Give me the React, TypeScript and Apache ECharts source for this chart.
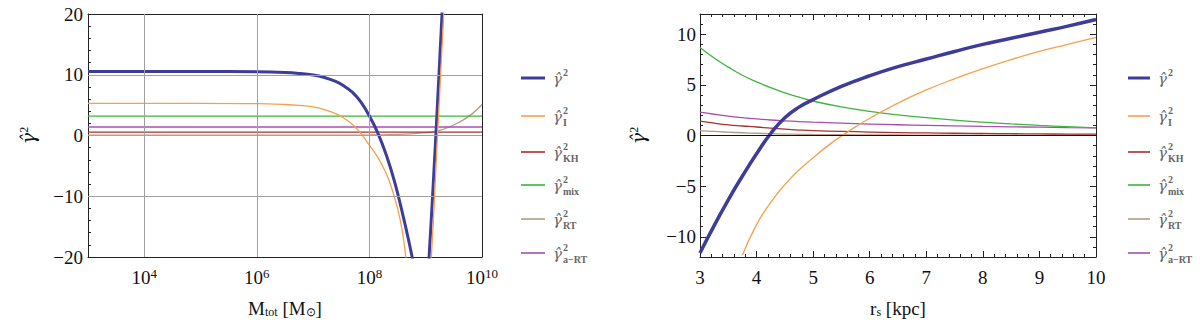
import { useEffect, useRef } from 'react';
import * as echarts from 'echarts';

// ---------- shared ----------
const legendSubs = ['', 'I', 'KH', 'mix', 'RT', 'a−RT'];
const curveColors = ['#3d3c9b', '#f7a04a', '#a8302e', '#3db53d', '#b59a86', '#a64fae'];
const curveWidths = [3, 1.3, 1.3, 1.3, 1.3, 1.3];

// ---------- left panel: x = log10(M_tot / M_sun) ----------
const lBlueLogM = [3, 5, 6, 6.5, 6.75, 7, 7.2, 7.4, 7.55, 7.7, 7.85, 8.0, 8.15, 8.3, 8.45, 8.6, 8.7, 8.78, 8.9, 9.0, 9.06, 9.18, 9.29, 9.35];
const lBlueVal = [10.55, 10.55, 10.5, 10.38, 10.22, 9.95, 9.55, 8.9, 8.15, 7.1, 5.5, 3.2, 0.4, -3.2, -7.7, -13.3, -17.4, -21, -27, -28, -20, 0, 20, 30];
const lOrangeLogM = [3, 5, 6, 6.5, 6.75, 7, 7.2, 7.4, 7.55, 7.7, 7.85, 8.0, 8.15, 8.3, 8.4, 8.5, 8.58, 8.64, 8.7, 8.8, 9.0, 9.1, 9.21, 9.32, 9.38];
const lOrangeVal = [5.3, 5.3, 5.25, 5.1, 4.95, 4.7, 4.25, 3.6, 2.85, 1.8, 0.3, -1.6, -3.6, -6.3, -8.8, -12, -15.5, -19.5, -24, -30, -33, -20, 0, 20, 31];
const lRedLogM = [3, 10];
const lRedVal = [0.55, 0.55];
const lGreenLogM = [3, 10];
const lGreenVal = [3.2, 3.2];
const lBrownLogM = [3, 7, 8, 8.5, 8.85, 9.25, 9.6, 9.83, 10];
const lBrownVal = [0.05, 0.05, 0.1, 0.2, 0.35, 0.85, 2.2, 3.6, 5.1];
const lPurpleLogM = [3, 10];
const lPurpleVal = [1.4, 1.4];
const leftGridX = [1e4, 1e6, 1e8];
const leftGridY = [10, 0, -10];

// ---------- right panel: x = r_s [kpc] ----------
const rs = [3, 3.25, 3.5, 3.75, 4, 4.25, 4.5, 4.75, 5, 5.5, 6, 6.5, 7, 7.5, 8, 8.5, 9, 9.5, 10];
const rBlue = [-11.6, -8.9, -6.35, -4.0, -1.8, 0.2, 1.75, 2.8, 3.55, 4.85, 5.9, 6.8, 7.55, 8.3, 9.0, 9.6, 10.2, 10.8, 11.45];
const rsOrange = [3.75, 4, 4.25, 4.5, 4.75, 5, 5.25, 5.5, 5.75, 6, 6.5, 7, 7.5, 8, 8.5, 9, 9.5, 10];
const rOrange = [-11.8, -8.8, -6.6, -4.85, -3.4, -2.2, -1.05, -0.05, 0.85, 1.7, 3.2, 4.5, 5.6, 6.6, 7.5, 8.3, 9.0, 9.7];
const rRed = [1.43, 1.22, 1.05, 0.94, 0.84, 0.72, 0.62, 0.54, 0.48, 0.41, 0.34, 0.29, 0.25, 0.22, 0.2, 0.18, 0.16, 0.14, 0.13];
const rGreen = [8.7, 7.65, 6.75, 5.95, 5.3, 4.72, 4.22, 3.78, 3.4, 2.82, 2.38, 2.04, 1.76, 1.52, 1.32, 1.15, 1.0, 0.87, 0.76];
const rBrown = [0.49, 0.4, 0.33, 0.27, 0.22, 0.18, 0.14, 0.12, 0.1, 0.08, 0.06, 0.05, 0.04, 0.035, 0.03, 0.025, 0.02, 0.02, 0.02];
const rPurple = [2.3, 2.1, 1.92, 1.77, 1.64, 1.53, 1.45, 1.38, 1.32, 1.22, 1.13, 1.06, 1.0, 0.95, 0.9, 0.86, 0.82, 0.78, 0.75];

const FONT = "'Liberation Serif', serif";
const GFONT = "'DejaVu Serif', serif";
const AXIS_COLOR = '#222';

const zip = (xs: number[], ys: number[]) => xs.map((x, i) => [x, ys[i]]);
const zipLog = (es: number[], ys: number[]) => es.map((e, i) => [Math.pow(10, e), ys[i]]);
const minusFmt = (v: number) => (v < 0 ? '−' + Math.abs(v) : String(v));

export default function App() {
  const ref = useRef<HTMLDivElement>(null);

  useEffect(() => {
    if (!ref.current) return;
    const chart = echarts.init(ref.current, null, { renderer: 'svg' });

    const leftSets = [
      zipLog(lBlueLogM, lBlueVal),
      zipLog(lOrangeLogM, lOrangeVal),
      zipLog(lRedLogM, lRedVal),
      zipLog(lGreenLogM, lGreenVal),
      zipLog(lBrownLogM, lBrownVal),
      zipLog(lPurpleLogM, lPurpleVal),
    ];
    const rightSets = [
      zip(rs, rBlue),
      zip(rsOrange, rOrange),
      zip(rs, rRed),
      zip(rs, rGreen),
      zip(rs, rBrown),
      zip(rs, rPurple),
    ];
    const leftOrder = [4, 2, 5, 3, 0, 1];
    const rightOrder = [4, 2, 5, 3, 1, 0];

    const series: any[] = [];
    series.push({
      type: 'line', xAxisIndex: 0, yAxisIndex: 0, data: [], z: 1, silent: true,
      markLine: {
        silent: true, symbol: 'none', label: { show: false },
        lineStyle: { color: '#a0a0a0', width: 1, type: 'solid' },
        data: [...leftGridX.map((v) => ({ xAxis: v })), ...leftGridY.map((v) => ({ yAxis: v }))],
      },
    });
    series.push({
      type: 'line', xAxisIndex: 2, yAxisIndex: 2, data: [], z: 1, silent: true,
      markLine: {
        silent: true, symbol: 'none', label: { show: false },
        lineStyle: { color: '#111', width: 1, type: 'solid' },
        data: [{ yAxis: 0 }],
      },
    });
    leftOrder.forEach((i) => {
      series.push({
        type: 'line', xAxisIndex: 0, yAxisIndex: 0, data: leftSets[i], showSymbol: false, symbol: 'none',
        smooth: 0.4, clip: true, z: 3,
        lineStyle: { color: curveColors[i], width: curveWidths[i] },
      });
    });
    rightOrder.forEach((i) => {
      series.push({
        type: 'line', xAxisIndex: 2, yAxisIndex: 2, data: rightSets[i], showSymbol: false, symbol: 'none',
        smooth: 0.5, clip: true, z: 3,
        lineStyle: { color: curveColors[i], width: i === 0 ? 3.5 : curveWidths[i] },
      });
    });

    const axisLine = { show: true, onZero: false, lineStyle: { color: AXIS_COLOR, width: 1 } };
    const labelBase = { fontFamily: FONT, fontSize: 19, color: '#111' };
    const supRich = { sup: { fontFamily: FONT, fontSize: 13, color: '#111', verticalAlign: 'top', padding: [0, 0, 8, 0] } };
    const subRich = { sub: { fontFamily: FONT, fontSize: 12, color: '#111', verticalAlign: 'bottom', padding: [6, 0, 0, 0] } };
    const nameRich = {
      g: { fontFamily: GFONT, fontSize: 19, fontStyle: 'italic', color: '#111' },
      sup: { fontFamily: FONT, fontSize: 12, color: '#111', verticalAlign: 'top', padding: [0, 0, 8, 0] },
    };

    const hidden = { axisLabel: { show: false }, axisTick: { show: false }, splitLine: { show: false }, minorTick: { show: false } };

    const legendY = [78, 116, 152, 185, 219, 253];
    const legendX = [521, 1128];
    const graphic: any[] = [];
    legendX.forEach((lx, side) => {
      const len = side === 0 ? 24 : 22;
      legendSubs.forEach((sub, i) => {
        const y = legendY[i];
        graphic.push({
          type: 'line', shape: { x1: lx, y1: y, x2: lx + len, y2: y },
          style: { stroke: curveColors[i], lineWidth: i === 0 ? 3 : 1.6 },
        });
        const tx = lx + len + 8;
        graphic.push({
          type: 'text', x: tx, y: y + 1,
          style: { text: 'γ̂', fontFamily: GFONT, fontStyle: 'italic', fontSize: 15, fill: '#666', align: 'left', verticalAlign: 'middle' },
        });
        graphic.push({
          type: 'text', x: tx + 10, y: y - 6,
          style: { text: '2', fontFamily: FONT, fontWeight: 'bold', fontSize: 10, fill: '#666', align: 'left', verticalAlign: 'middle' },
        });
        if (sub) {
          graphic.push({
            type: 'text', x: tx + 10, y: y + 6,
            style: { text: sub, fontFamily: FONT, fontWeight: 'bold', fontSize: 10, fill: '#666', align: 'left', verticalAlign: 'middle' },
          });
        }
      });
    });

    const tick = { show: true, inside: true, length: 6, lineStyle: { color: AXIS_COLOR } };
    const minor = { show: true, splitNumber: 5, length: 3, lineStyle: { color: AXIS_COLOR } };

    chart.setOption({
      animation: false,
      backgroundColor: '#fff',
      textStyle: { fontFamily: FONT },
      grid: [
        { left: 88, top: 14, width: 394, height: 243, containLabel: false },
        { left: 700, top: 14, width: 396, height: 243, containLabel: false },
      ],
      xAxis: [
        {
          type: 'log', logBase: 10, gridIndex: 0, position: 'bottom', min: 1e3, max: 1e10,
          axisLine, axisTick: { show: false }, splitLine: { show: false },
          axisLabel: {
            ...labelBase, margin: 10, showMinLabel: false,
            formatter: (v: number) => {
              const e = Math.round(Math.log10(v));
              return e % 2 === 0 && e > 3 ? `10{sup|${e}}` : '';
            },
            rich: supRich,
          },
          name: 'M{sub|tot} [M{sub|⊙}]', nameLocation: 'middle', nameGap: 42,
          nameTextStyle: { ...labelBase, fontSize: 19, rich: subRich },
        },
        { type: 'log', logBase: 10, gridIndex: 0, position: 'top', min: 1e3, max: 1e10, axisLine, ...hidden },
        {
          type: 'value', gridIndex: 1, position: 'bottom', min: 3, max: 10, interval: 1,
          axisLine, splitLine: { show: false }, axisTick: tick, minorTick: minor,
          axisLabel: { ...labelBase, margin: 11 },
          name: 'r{sub|s} [kpc]', nameLocation: 'middle', nameGap: 42,
          nameTextStyle: { ...labelBase, fontSize: 19, rich: subRich },
        },
        {
          type: 'value', gridIndex: 1, position: 'top', min: 3, max: 10, interval: 1,
          axisLine, splitLine: { show: false }, axisLabel: { show: false }, axisTick: tick, minorTick: minor,
        },
      ],
      yAxis: [
        {
          type: 'value', gridIndex: 0, position: 'left', min: -20, max: 20, interval: 10,
          axisLine, splitLine: { show: false }, axisTick: tick, minorTick: minor,
          axisLabel: { ...labelBase, margin: 5, formatter: minusFmt },
          name: '{g|γ̂}{sup|2}', nameLocation: 'middle', nameGap: 50, nameRotate: 90,
          nameTextStyle: { ...labelBase, rich: nameRich },
        },
        { type: 'value', gridIndex: 0, position: 'right', min: -20, max: 20, interval: 10, axisLine, ...hidden },
        {
          type: 'value', gridIndex: 1, position: 'left', min: -12, max: 12,
          axisLine, splitLine: { show: false }, axisTick: tick, minorTick: minor,
          axisLabel: { ...labelBase, margin: 4, formatter: minusFmt, showMinLabel: false, showMaxLabel: false },
          name: '{g|γ̂}{sup|2}', nameLocation: 'middle', nameGap: 52, nameRotate: 90,
          nameTextStyle: { ...labelBase, rich: nameRich },
        },
        {
          type: 'value', gridIndex: 1, position: 'right', min: -12, max: 12,
          axisLine, splitLine: { show: false }, axisLabel: { show: false }, axisTick: tick, minorTick: minor,
        },
      ],
      series,
      graphic,
    });

    return () => chart.dispose();
  }, []);

  return <div ref={ref} style={{ position: 'absolute', left: 0, top: 0, width: 1200, height: 324 }} />;
}
